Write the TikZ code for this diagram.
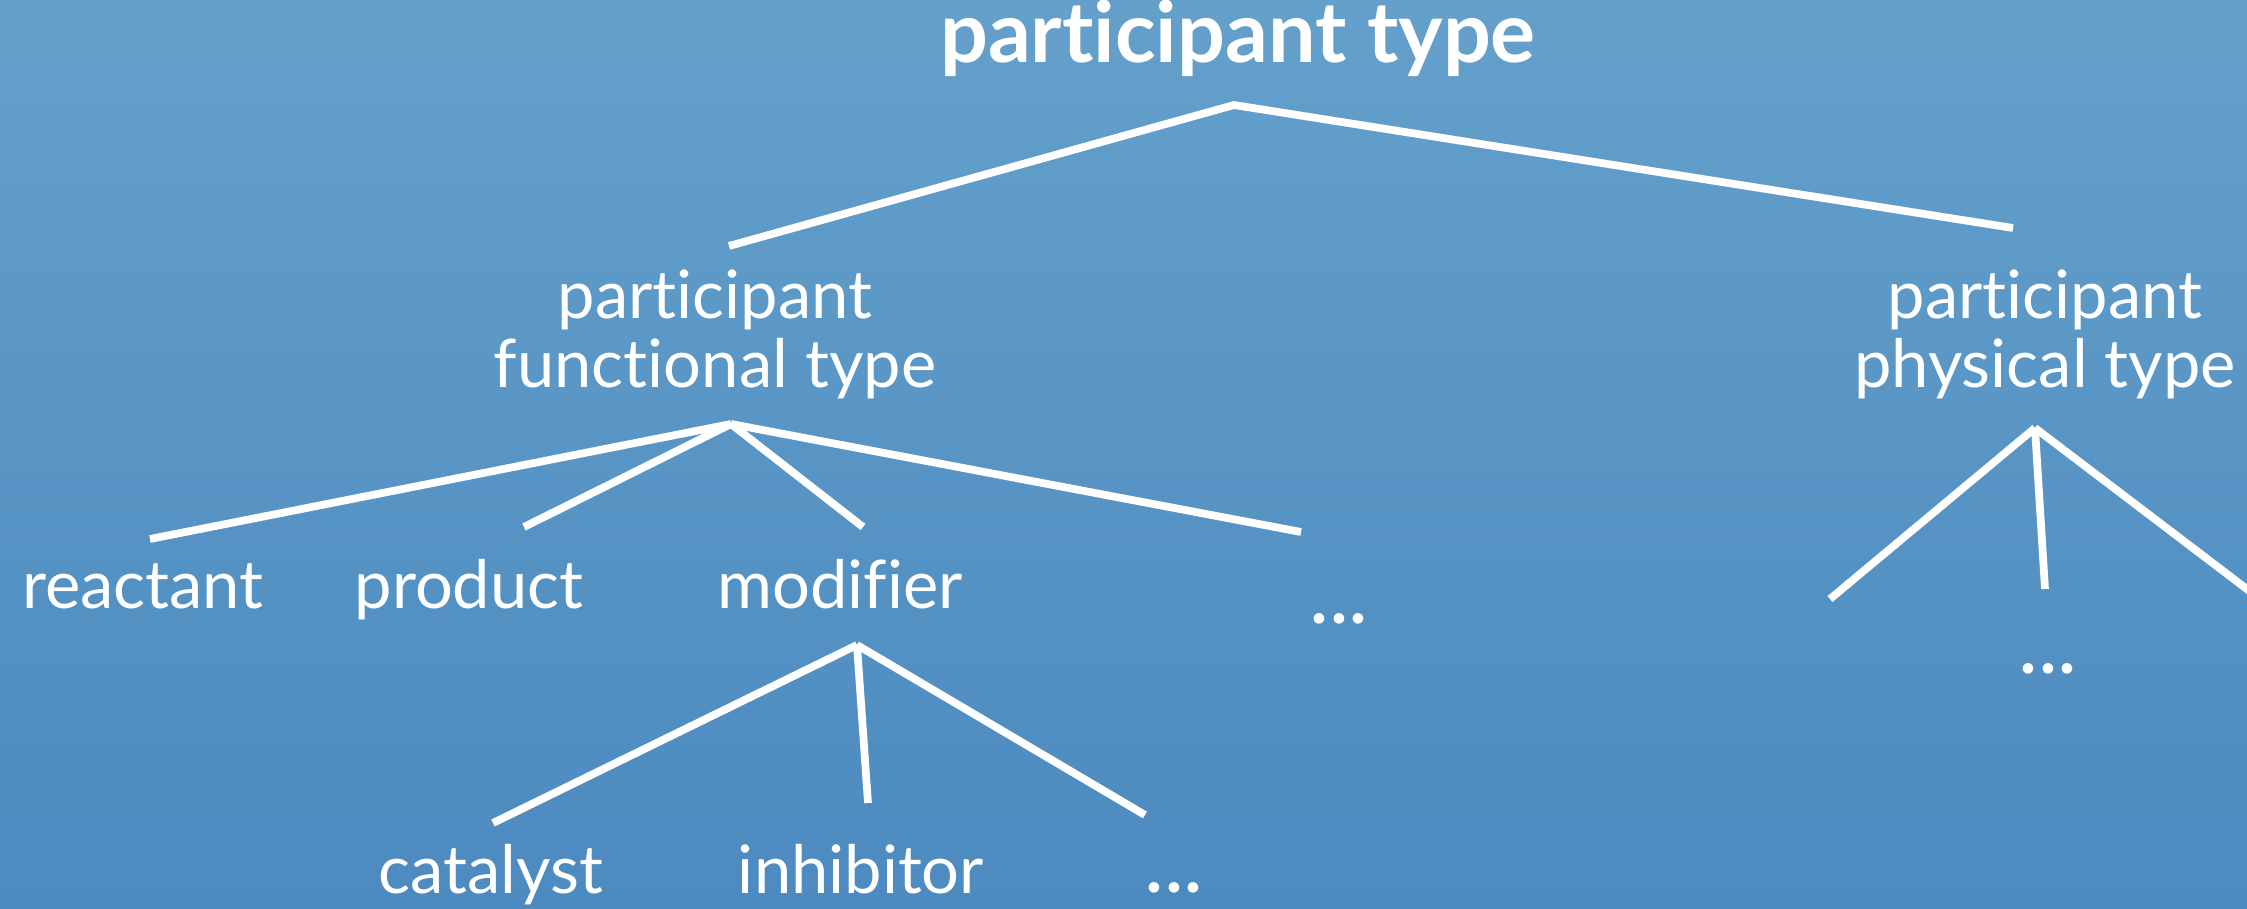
\documentclass[tikz,border=0pt]{standalone}
\usepackage{fontspec}
\setmainfont{Lato}[Ligatures={NoCommon,NoContextual}]
\begin{document}
\begin{tikzpicture}[x=0.01cm,y=-0.01cm,
  branch/.style={draw=white,line width=2.2pt},
  label/.style={text=white,font=\fontsize{19}{19.6}\selectfont,anchor=base,inner sep=0pt,align=center},
  dotslabel/.style={label,font=\fontsize{24}{24}\selectfont},
  titlelabel/.style={text=white,font=\fontsize{24}{28}\selectfont\bfseries,anchor=base,inner sep=0pt}]
  % background
  \definecolor{bgtop}{RGB}{100,160,202}
  \definecolor{bgbot}{RGB}{76,138,192}
  \useasboundingbox (0,0) rectangle (2247,909);
  \shade[top color=bgtop,bottom color=bgbot] (0,0) rectangle (2247,909);

  % labels (two-line nodes sit on the baseline of their last line)
  \node[titlelabel] (root) at (1238,63) {participant type};
  \node[label] (func) at (715,387) {participant\\functional type};
  \node[label] (phys) at (2045,387) {participant\\physical type};
  \node[label] (reac) at (143,608) {reactant};
  \node[label] (prod) at (469,608) {product};
  \node[label] (modi) at (840,608) {modifier};
  \node[dotslabel] (fdots) at (1339,623) {...};
  \node[dotslabel] (pdots) at (2048,673) {...};
  \node[label] (cata) at (491,893) {catalyst};
  \node[label] (inhi) at (861,893) {inhibitor};
  \node[dotslabel] (mdots) at (1174,892) {...};

  % branch points and line ends
  \coordinate (root-v) at (1234,105);
  \coordinate (func-top) at (729,246);
  \coordinate (phys-top) at (2013,228);
  \coordinate (func-v) at (731,424);
  \coordinate (reac-top) at (150,539);
  \coordinate (prod-top) at (524,527);
  \coordinate (modi-top) at (863,527);
  \coordinate (fdots-top) at (1301,532);
  \coordinate (phys-v) at (2035,428);
  \coordinate (p1-top) at (1830,599);
  \coordinate (pdots-top) at (2045,589);
  \coordinate (p3-top) at (2260,599);
  \coordinate (modi-v) at (857,645);
  \coordinate (cata-top) at (493,823);
  \coordinate (inhi-top) at (868,803);
  \coordinate (mdots-top) at (1145,815);

  % tree branches
  \draw[branch] (func-top) -- (root-v) -- (phys-top);
  \draw[branch] (reac-top) -- (func-v);
  \draw[branch] (prod-top) -- (func-v);
  \draw[branch] (modi-top) -- (func-v);
  \draw[branch] (fdots-top) -- (func-v);
  \draw[branch] (p1-top) -- (phys-v);
  \draw[branch] (pdots-top) -- (phys-v);
  \draw[branch] (p3-top) -- (phys-v);
  \draw[branch] (cata-top) -- (modi-v);
  \draw[branch] (inhi-top) -- (modi-v);
  \draw[branch] (mdots-top) -- (modi-v);
\end{tikzpicture}
\end{document}
